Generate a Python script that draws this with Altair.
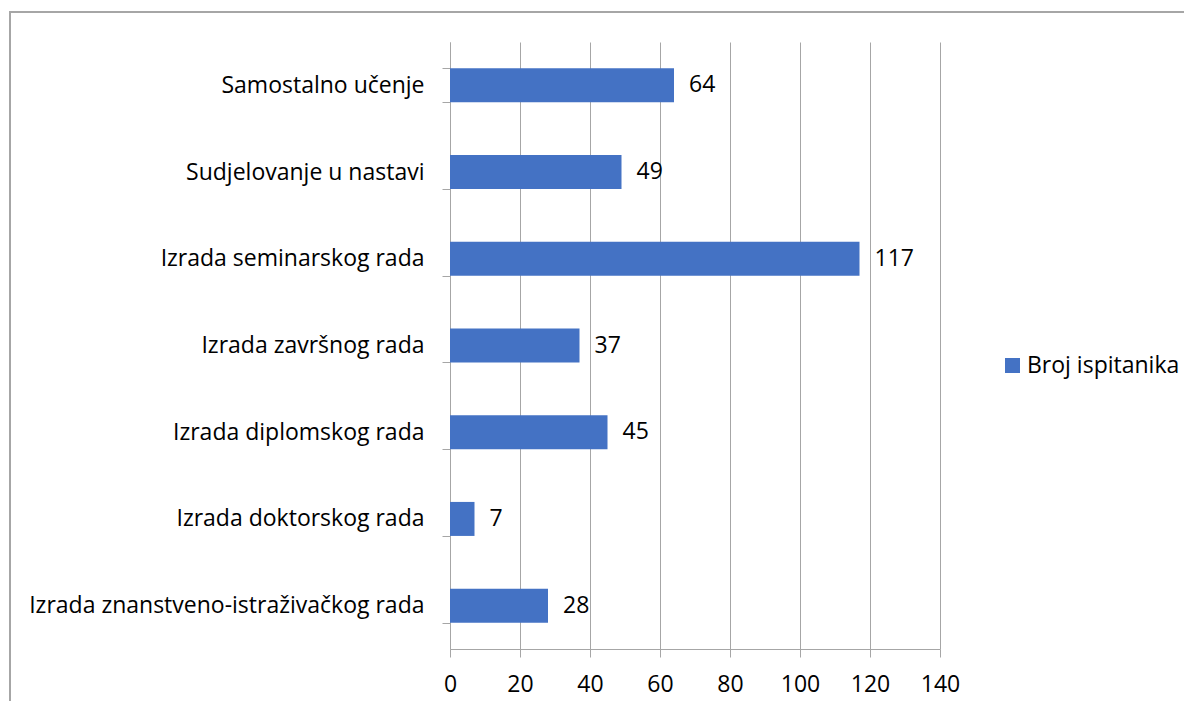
import altair as alt
import pandas as pd

categories = [
    "Samostalno učenje",
    "Sudjelovanje u nastavi",
    "Izrada seminarskog rada",
    "Izrada završnog rada",
    "Izrada diplomskog rada",
    "Izrada doktorskog rada",
    "Izrada znanstveno-istraživačkog rada",
]
values = [64, 49, 117, 37, 45, 7, 28]
series_name = "Broj ispitanika"
x_ticks = [0, 20, 40, 60, 80, 100, 120, 140]

df = pd.DataFrame({"cat": categories, "val": values, "series": [series_name] * len(categories)})

FONT = "Open Sans"
FS = 23
GRID = "#a6a6a6"
BAR = "#4472c4"

y_enc = alt.Y(
    "cat:N",
    sort=categories,
    scale=alt.Scale(paddingInner=0.61, paddingOuter=0.305),
    axis=alt.Axis(
        title=None,
        tickBand="extent",
        tickSize=8,
        tickColor=GRID,
        domainColor=GRID,
        labelPadding=18,
        labelFont=FONT,
        labelFontSize=FS,
        labelColor="#000000",
        labelLimit=600,
        grid=False,
    ),
)
x_enc = alt.X(
    "val:Q",
    scale=alt.Scale(domain=[0, 140], nice=False),
    axis=alt.Axis(
        title=None,
        values=x_ticks,
        grid=True,
        gridColor=GRID,
        tickSize=8,
        tickColor=GRID,
        domainColor=GRID,
        labelPadding=16,
        labelFlush=False,
        labelOverlap=False,
        labelFont=FONT,
        labelFontSize=FS,
        labelColor="#000000",
    ),
)

bars = alt.Chart(df).mark_bar(size=34).encode(
    x=x_enc,
    y=y_enc,
    color=alt.Color(
        "series:N",
        scale=alt.Scale(range=[BAR]),
        legend=alt.Legend(
            title=None,
            orient="none",
            legendX=551,
            legendY=312,
            padding=0,
            symbolType="square",
            symbolSize=225,
            symbolStrokeWidth=0,
            symbolOpacity=1,
            labelFont=FONT,
            labelFontSize=FS,
            labelColor="#000000",
            labelOffset=3,
            labelLimit=300,
        ),
    ),
)

labels = alt.Chart(df).mark_text(
    align="left", baseline="middle", dx=15, font=FONT, fontSize=FS, color="#000000"
).encode(
    x=alt.X("val:Q"),
    y=alt.Y("cat:N", sort=categories),
    text=alt.Text("val:Q"),
)

frame = alt.Chart(df).mark_rect(fill=None, stroke="#a6a6a6", strokeWidth=1.5, clip=False).encode(
    x=alt.value(-440), x2=alt.value(900), y=alt.value(-30), y2=alt.value(900)
)

chart = (
    alt.layer(frame, bars, labels)
    .properties(
        width=490,
        height=607,
        padding={"left": 442, "top": 34, "right": 244, "bottom": 52},
        autosize=alt.AutoSizeParams(type="none"),
        background="white",
    )
    .configure_view(stroke=None)
)

chart.save("out.html", embed_options={"renderer": "svg", "actions": False})
